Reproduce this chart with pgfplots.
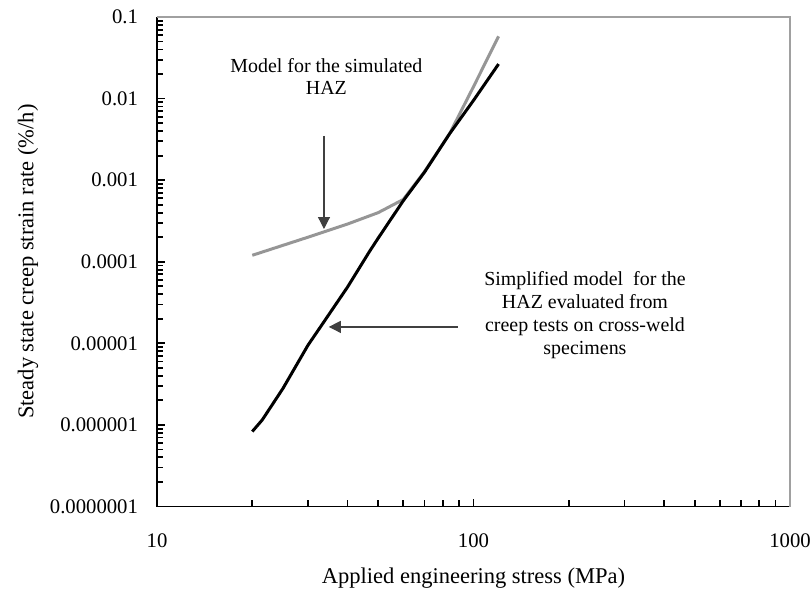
\documentclass[border=0pt]{standalone}
\usepackage{fontspec}
\setmainfont{Liberation Serif}
\usepackage{pgfplots}
\pgfplotsset{compat=1.18}
\usetikzlibrary{arrows.meta,calc}
\definecolor{graycurve}{RGB}{150,150,150}
\definecolor{arrowgray}{RGB}{64,64,64}
\definecolor{framegray}{RGB}{160,160,160}
\begin{document}
\begin{tikzpicture}
\begin{axis}[
 xmode=log, ymode=log,
 scale only axis, width=316.5bp, height=244.75bp,
 xmin=10, xmax=1000, ymin=1e-7, ymax=0.1,
 axis x line*=bottom, axis y line*=left,
 axis line style={black, line width=0.9bp},
 xtick={10,100,1000}, xticklabels={10,100,1000},
 extra x ticks={20,30,40,50,60,70,80,90,200,300,400,500,600,700,800,900},
 extra x tick labels={},
 extra x tick style={major tick length=3.5bp, grid=none},
 ytick={1e-7,1e-6,1e-5,1e-4,1e-3,1e-2,1e-1},
 yticklabels={0.0000001,0.000001,0.00001,0.0001,0.001,0.01,0.1},
 extra y ticks={2e-7,3e-7,4e-7,5e-7,6e-7,7e-7,8e-7,9e-7,
   2e-6,3e-6,4e-6,5e-6,6e-6,7e-6,8e-6,9e-6,
   2e-5,3e-5,4e-5,5e-5,6e-5,7e-5,8e-5,9e-5,
   2e-4,3e-4,4e-4,5e-4,6e-4,7e-4,8e-4,9e-4,
   2e-3,3e-3,4e-3,5e-3,6e-3,7e-3,8e-3,9e-3,
   2e-2,3e-2,4e-2,5e-2,6e-2,7e-2,8e-2,9e-2},
 extra y tick labels={},
 extra y tick style={major tick length=3bp, grid=none},
 tick align=inside,
 major tick length=4bp, minor tick length=3bp,
 tick style={black, line width=0.9bp},
 ticklabel style={font=\fontsize{10.4}{12}\selectfont},
 xticklabel style={yshift=-10bp},
 yticklabel style={xshift=-6bp},
 xlabel={Applied engineering stress (MPa)},
 ylabel={Steady state creep strain rate (\%/h)},
 label style={font=\fontsize{11.3}{13}\selectfont},
 xlabel style={at={(axis description cs:0.5,-0.146)}, anchor=center},
 ylabel style={at={(axis description cs:-0.204,0.5)}, anchor=center},
 clip=false,
]
\draw[framegray, line width=0.6bp] (rel axis cs:0,1) -- (rel axis cs:1,1) -- (rel axis cs:1,0);
% Model for the simulated HAZ (gray)
\addplot[graycurve, line width=1.5bp, line join=round] coordinates {
 (20,1.2e-4) (30,2.0e-4) (40,2.9e-4) (50,4.0e-4) (60,5.8e-4) (70,1.27e-3)
 (84,3.7e-3) (100,1.4e-2) (120,5.8e-2)
};
% Simplified model (black)
\addplot[black, line width=1.5bp, line join=round] coordinates {
 (20,8.3e-7) (21.5,1.15e-6) (25,2.8e-6) (30,9.5e-6) (32.7,1.55e-5) (40,4.9e-5)
 (47,1.35e-4) (50,1.95e-4) (60,5.6e-4) (70,1.25e-3) (84,3.7e-3) (100,9.5e-3) (120,2.65e-2)
};
\node[align=center, font=\fontsize{10}{11}\selectfont] at (axis cs:34.3,0.0189) {Model for the simulated\\HAZ};
\draw[arrowgray, line width=0.6bp, -{Triangle[length=6bp,width=6bp]}] (axis cs:33.7,3.48e-3) -- (axis cs:33.7,2.52e-4);
\node[align=center, font=\fontsize{10}{11.5}\selectfont] at (axis cs:225,2.23e-5) {Simplified model\ \ for the\\HAZ evaluated from\\creep tests on cross-weld\\specimens};
\draw[arrowgray, line width=0.6bp, -{Triangle[length=6bp,width=6bp]}] (axis cs:89.3,1.59e-5) -- (axis cs:34.9,1.59e-5);
\end{axis}
\pgfresetboundingbox
\path[use as bounding box] ($(current axis.south west)+(-78.5bp,-42.75bp)$) rectangle ($(current axis.north east)+(11bp,8.5bp)$);
\end{tikzpicture}
\end{document}
